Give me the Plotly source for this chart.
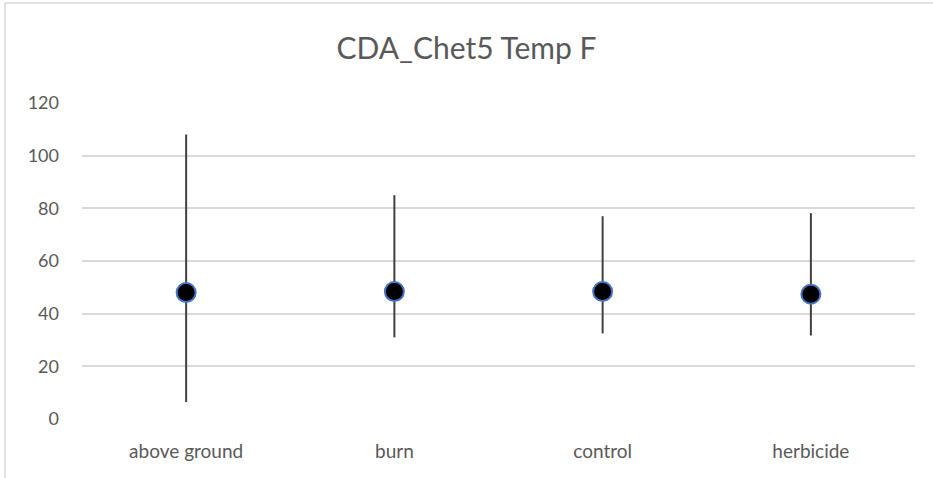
import plotly.graph_objects as go

categories = ["above ground", "burn", "control", "herbicide"]
means = [48.0, 48.4, 48.4, 47.4]
highs = [108.0, 85.0, 77.0, 78.2]
lows = [6.5, 31.0, 32.5, 31.7]
y_ticks = [0, 20, 40, 60, 80, 100, 120]

W, H = 933, 478
L, R, T, B = 82, 18, 103, 59

fig = go.Figure()
fig.add_trace(go.Scatter(
    x=categories, y=means, mode="markers",
    marker=dict(size=19, color="black", line=dict(color="#4472C4", width=2)),
    error_y=dict(type="data", symmetric=False,
                 array=[h - m for h, m in zip(highs, means)],
                 arrayminus=[m - l for m, l in zip(means, lows)],
                 color="#404040", thickness=2, width=0),
    showlegend=False,
))

pw, ph = W - L - R, H - T - B
def px(x):
    return (x - L) / pw
def py(y):
    return (H - B - y) / ph

fig.update_layout(
    width=W, height=H,
    margin=dict(l=L, r=R, t=T, b=B),
    paper_bgcolor="white", plot_bgcolor="white",
    font=dict(family="Lato, Open Sans, sans-serif", color="#595959", size=18),
    title=dict(text="CDA_Chet5 Temp F", x=0.5, xanchor="center",
               y=1 - 48 / H, yanchor="middle",
               font=dict(size=30, color="#595959")),
    xaxis=dict(range=[-0.5, 3.5], showgrid=False, showline=False, zeroline=False,
               ticks="", ticklabelstandoff=19, tickfont=dict(size=19)),
    yaxis=dict(range=[0, 120], tickvals=y_ticks, showgrid=True,
               gridcolor="#D9D9D9", gridwidth=1.5, zeroline=False,
               showline=False, ticks="", ticklabelstandoff=22,
               tickfont=dict(size=18)),
    shapes=[
        dict(type="line", xref="paper", yref="paper",
             x0=px(5), x1=px(5), y0=py(3), y1=py(H + 5),
             line=dict(color="#D9D9D9", width=1.5)),
        dict(type="line", xref="paper", yref="paper",
             x0=px(5), x1=px(W + 5), y0=py(3), y1=py(3),
             line=dict(color="#D9D9D9", width=1.5)),
    ],
)

fig.write_html("out.html", config={"displayModeBar": False},
               post_script="document.body.style.margin='0';document.body.style.overflow='hidden';")
